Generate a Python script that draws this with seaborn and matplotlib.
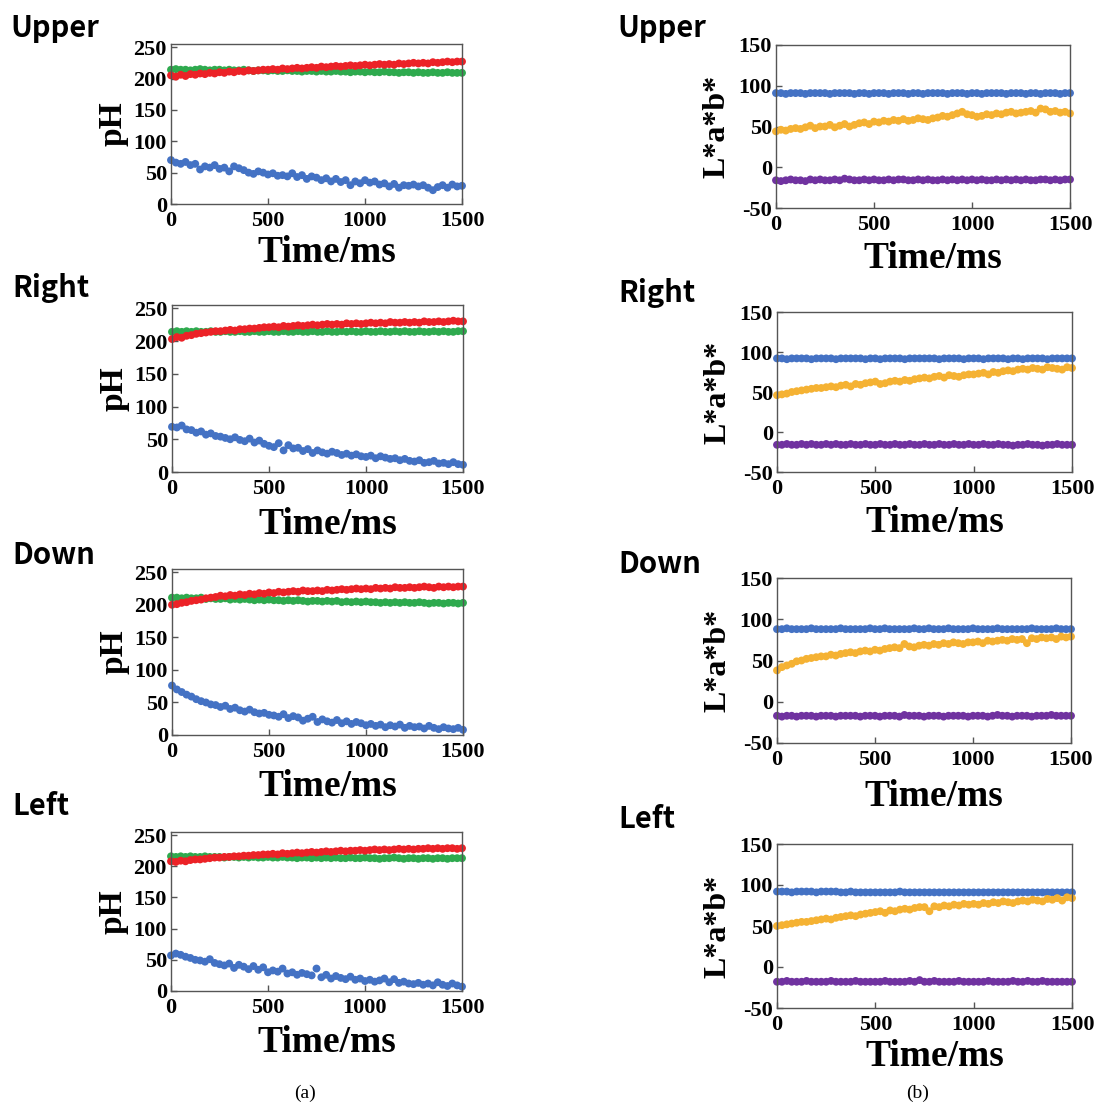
import matplotlib
matplotlib.use("Agg")
import matplotlib.pyplot as plt
import seaborn as sns
import pandas as pd

# ---------------- data ----------------
time_ms = list(range(0, 1501, 25))  # sampling instants (61 points)

# (a) RGB values
ph_upper_r = [205,203,206,204,207,206,208,207,209,208, 210,209,211,210,212,211,213,212,213,214,
              214,215,214,216,215,216,217,216,217,218, 217,219,218,219,220,219,220,221,220,221,
              222,221,222,223,222,223,222,224,223,224, 225,224,225,224,226,225,226,227,226,227, 227]
ph_upper_g = [214,215,214,214,213,214,215,214,213,214, 214,213,214,213,213,214,213,212,213,213,
              212,213,212,212,213,212,212,211,212,212, 211,212,211,211,212,211,211,210,211,211,
              210,211,210,210,211,210,210,209,210,210, 209,210,209,209,210,209,209,210,209,209, 209]
ph_upper_b = [70,66,64,67,62,64,55,60,58,62, 56,58,52,60,57,54,50,48,52,50,
              47,49,45,46,44,49,43,46,40,44, 42,38,41,36,40,35,38,30,36,33,
              38,34,36,31,33,28,32,26,30,29, 31,28,30,26,22,27,30,26,31,28, 29]

ph_right_r = [203,206,205,208,209,211,212,213,214,215, 215,216,217,216,218,218,219,219,220,221,
              221,222,221,223,222,223,224,223,224,225, 224,225,226,225,226,225,227,226,227,226,
              227,228,227,228,227,229,228,228,229,228, 229,228,230,229,229,230,229,230,231,230, 230]
ph_right_g = [214,215,214,215,214,215,214,214,215,214, 214,215,214,214,215,214,214,215,214,214,
              215,214,214,215,214,214,215,214,214,215, 214,214,215,214,214,215,214,215,214,214,
              215,214,214,215,214,214,215,214,215,214, 214,215,214,214,215,214,215,214,214,215, 215]
ph_right_b = [69,68,71,65,64,60,62,57,59,55, 54,52,50,53,49,47,51,45,48,43,
              40,38,44,33,41,36,37,32,35,29, 33,30,28,31,29,26,28,25,27,24,
              23,25,21,24,22,20,21,18,20,17, 16,18,14,15,17,13,14,12,15,12, 11]

ph_down_r = [200,201,203,204,206,207,208,210,211,212, 214,213,215,214,216,215,217,216,218,217,
             219,218,220,219,220,221,220,222,221,221, 222,221,223,222,223,224,223,224,225,224,
             225,224,226,225,226,225,227,226,226,227, 226,227,228,227,226,228,227,228,227,228, 228]
ph_down_g = [211,211,210,211,210,210,211,209,210,209, 209,210,208,209,208,209,208,207,208,207,
             208,207,207,206,207,206,207,206,205,206, 206,205,206,205,206,204,205,204,205,204,
             205,204,204,203,204,203,204,203,204,203, 203,204,203,202,203,203,202,203,203,202, 203]
ph_down_b = [76,70,66,62,59,55,52,50,47,46, 43,45,40,42,38,36,39,35,33,34,
             31,30,28,32,26,29,27,22,25,28, 20,24,21,19,23,18,21,17,20,18,
             15,17,14,16,12,15,13,16,11,14, 12,13,10,14,11,9,12,10,9,11, 8]

ph_left_r = [208,207,209,208,210,211,211,212,213,214, 214,215,215,216,216,217,217,218,218,219,
             219,220,219,221,220,221,222,221,222,223, 222,223,224,223,224,225,224,225,225,226,
             225,226,227,226,227,226,227,228,227,228, 227,228,228,229,228,229,228,229,229,228, 229]
ph_left_g = [216,215,216,215,216,215,215,216,215,215, 215,214,215,215,214,215,214,215,214,214,
             215,214,214,215,214,214,213,214,214,213, 214,213,214,213,214,213,213,214,213,213,
             214,213,213,212,213,213,214,213,212,213, 213,212,213,213,212,213,213,212,213,213, 213]
ph_left_b = [57,60,58,55,53,50,49,47,51,45, 43,41,44,37,42,39,35,40,34,38,
             30,33,31,36,28,30,26,29,27,25, 36,22,26,20,24,21,19,23,18,20,
             16,18,15,17,20,14,19,13,15,12, 11,13,10,12,9,14,10,8,12,9, 7]

# (b) L*a*b* values
lab_upper_L = [91,91,90,91,91,91,90,91,91,91, 91,90,91,91,91,91,90,91,91,90,
               91,91,91,90,91,91,91,90,91,91, 90,91,91,91,91,90,91,91,91,90,
               91,91,90,91,91,91,91,90,91,91, 91,90,91,91,90,91,91,91,90,91, 91]
lab_upper_a = [-16,-17,-16,-15,-16,-16,-17,-15,-16,-15, -16,-16,-15,-16,-14,-15,-16,-16,-15,-16,
               -15,-16,-16,-15,-16,-15,-15,-16,-16,-15, -16,-15,-16,-16,-15,-16,-15,-16,-15,-16,
               -15,-16,-15,-16,-16,-15,-16,-15,-16,-15, -16,-15,-16,-16,-15,-15,-16,-15,-16,-15, -15]
lab_upper_b = [44,46,45,47,48,47,49,51,48,50, 50,52,49,51,53,50,52,54,55,53,
               56,55,57,56,58,57,59,57,58,60, 59,58,60,61,63,62,64,66,68,65,
               64,62,63,65,64,66,65,67,68,66, 67,68,69,67,72,71,68,69,67,68, 66]

lab_right_L = [92,92,91,92,92,92,92,91,92,92, 92,92,91,92,92,92,92,92,91,92,
               92,91,92,92,92,92,91,92,92,92, 92,92,92,91,92,92,92,92,91,92,
               92,92,91,92,92,92,92,91,92,92, 91,92,92,92,92,91,92,92,92,92, 92]
lab_right_a = [-16,-16,-15,-16,-16,-15,-16,-15,-16,-16, -15,-16,-15,-16,-16,-15,-16,-16,-15,-16,
               -16,-15,-16,-16,-15,-16,-16,-15,-16,-16, -15,-16,-16,-15,-16,-16,-15,-16,-16,-15,
               -16,-16,-15,-16,-16,-15,-16,-16,-17,-16, -16,-15,-16,-16,-17,-16,-16,-15,-16,-16, -16]
lab_right_b = [46,47,48,50,51,52,53,54,55,55, 56,57,56,58,59,57,60,59,61,62,
               63,60,61,63,64,63,65,64,66,67, 68,67,69,70,68,71,70,69,71,72,
               72,73,74,72,75,74,76,77,76,78, 79,78,80,79,78,81,80,79,78,81, 80]

lab_down_L = [88,88,89,88,88,88,88,89,88,88, 88,88,88,89,88,88,88,88,88,89,
              88,88,89,88,88,88,88,88,89,88, 88,89,88,88,88,89,88,88,88,88,
              89,88,88,88,88,89,88,88,88,88, 88,88,89,88,88,88,88,89,88,88, 88]
lab_down_a = [-17,-18,-17,-17,-18,-17,-17,-17,-18,-17, -17,-17,-18,-17,-17,-17,-17,-18,-17,-17,
              -17,-18,-17,-17,-17,-18,-16,-17,-17,-17, -18,-17,-17,-17,-18,-17,-17,-17,-17,-18,
              -17,-17,-17,-18,-17,-16,-17,-17,-18,-17, -17,-17,-18,-17,-17,-17,-16,-17,-17,-17, -17]
lab_down_b = [38,42,44,46,49,50,52,53,54,55, 55,57,56,58,59,60,59,61,62,61,
              63,62,64,65,66,65,70,67,66,68, 69,68,70,69,71,70,72,71,70,72,
              72,73,71,74,73,74,75,74,76,75, 76,71,77,76,78,77,78,76,79,78, 79]

lab_left_L = [92,92,92,91,92,92,92,92,91,92, 92,92,92,91,91,92,91,91,91,91,
              91,91,91,91,91,92,91,91,91,91, 91,91,91,91,91,91,91,91,91,91,
              91,91,91,91,91,91,91,91,91,91, 91,91,91,91,91,91,91,91,91,91, 91]
lab_left_a = [-18,-18,-17,-18,-18,-18,-17,-18,-18,-18, -18,-17,-18,-18,-18,-18,-17,-18,-18,-18,
              -18,-18,-17,-18,-18,-18,-18,-17,-18,-16, -18,-18,-17,-18,-18,-18,-18,-17,-18,-18,
              -18,-18,-18,-17,-18,-18,-18,-18,-17,-18, -18,-17,-18,-18,-17,-18,-18,-18,-18,-18, -18]
lab_left_b = [50,51,52,53,54,55,55,56,57,58, 59,58,60,61,62,63,62,64,65,66,
              67,68,66,69,68,70,71,70,72,73, 73,68,74,73,75,74,76,75,77,76,
              77,76,78,77,79,78,80,79,78,80, 81,80,82,81,80,83,82,84,81,85, 84]

panel_names = ["Upper", "Right", "Down", "Left"]
ph_series = [(ph_upper_g, ph_upper_r, ph_upper_b), (ph_right_g, ph_right_r, ph_right_b),
             (ph_down_g, ph_down_r, ph_down_b), (ph_left_g, ph_left_r, ph_left_b)]
lab_series = [(lab_upper_L, lab_upper_a, lab_upper_b), (lab_right_L, lab_right_a, lab_right_b),
              (lab_down_L, lab_down_a, lab_down_b), (lab_left_L, lab_left_a, lab_left_b)]
ph_ticks = [0, 50, 100, 150, 200, 250]
lab_ticks = [-50, 0, 50, 100, 150]
time_ticks = [0, 500, 1000, 1500]

# ---------------- style ----------------
sns.set_style("ticks")
plt.rcParams["font.family"] = ["Liberation Serif", "DejaVu Serif"]
plt.rcParams["axes.unicode_minus"] = False
plt.rcParams["text.color"] = "black"
plt.rcParams["axes.labelcolor"] = "black"
plt.rcParams["xtick.color"] = "black"
plt.rcParams["ytick.color"] = "black"

W, H = 1107, 1108
fig = plt.figure(figsize=(W / 100, H / 100), dpi=100)

RED, GREEN, BLUE = "#EC2227", "#2EAA4E", "#4472C4"
ORANGE, PURPLE = "#F5B233", "#7032A0"

LEFT_BOX = [(171, 44, 462, 204), (172, 305, 463, 472), (172, 569, 463, 735), (171, 832, 462, 991)]
RIGHT_BOX = [(776, 45, 1070, 208), (777, 312, 1072, 472), (777, 578, 1071, 743), (777, 844, 1072, 1008)]
LEFT_TITLE = [(10, 37), (12, 297), (12, 564), (12, 815)]
RIGHT_TITLE = [(617, 37), (618, 302), (618, 573), (618, 828)]
XLAB_OFF_L = [49, 52, 52, 52]
XLAB_OFF_R = [51, 50, 54, 49]


def add_ax(box):
    l, t, r, b = box
    return fig.add_axes([l / W, 1 - b / H, (r - l) / W, (b - t) / H])


def style_ax(ax, yticks, ylim, ylabel, xoff, box):
    ax.set_xlim(0, 1500)
    ax.set_ylim(*ylim)
    ax.set_xticks(time_ticks)
    ax.set_yticks(yticks)
    ax.tick_params(direction="in", length=4, width=1, color="#555555",
                   labelcolor="black", labelsize=16, pad=3)
    ax.tick_params(axis="x", pad=5)
    for lab in ax.get_xticklabels() + ax.get_yticklabels():
        lab.set_fontweight("bold")
    for sp in ax.spines.values():
        sp.set_visible(True)
        sp.set_color("#555555")
        sp.set_linewidth(1.0)
    ax.set_xlabel("Time/ms", fontsize=27, fontweight="bold", color="black")
    ax.set_ylabel(ylabel, fontsize=24 if ylabel == "pH" else 23, fontweight="bold",
                  color="black")
    h = box[3] - box[1]
    ax.xaxis.set_label_coords(0.535, -xoff / h)
    ax.xaxis.label.set_va("center")
    ax.yaxis.set_label_coords(-0.2, 0.5)
    ax.yaxis.label.set_va("center")


def scatter_panel(ax, series, colors, names):
    frames = []
    for vals, nm in zip(series, names):
        frames.append(pd.DataFrame({"time": time_ms, "value": vals, "channel": nm}))
    df = pd.concat(frames, ignore_index=True)
    sns.scatterplot(data=df, x="time", y="value", hue="channel",
                    palette=dict(zip(names, colors)), legend=False,
                    s=32, linewidth=0, ax=ax, clip_on=False)


for i in range(4):
    ax = add_ax(LEFT_BOX[i])
    scatter_panel(ax, ph_series[i], [GREEN, RED, BLUE], ["G", "R", "B"])
    style_ax(ax, ph_ticks, (0, 255), "pH", XLAB_OFF_L[i], LEFT_BOX[i])
    fig.text(LEFT_TITLE[i][0] / W, 1 - LEFT_TITLE[i][1] / H, panel_names[i],
             fontsize=21, fontweight="bold", family=["Noto Sans CJK JP", "DejaVu Sans"],
             ha="left", va="baseline", color="black")

    ax = add_ax(RIGHT_BOX[i])
    scatter_panel(ax, lab_series[i], [BLUE, PURPLE, ORANGE], ["L", "a", "b"])
    style_ax(ax, lab_ticks, (-50, 150), "L*a*b*", XLAB_OFF_R[i], RIGHT_BOX[i])
    fig.text(RIGHT_TITLE[i][0] / W, 1 - RIGHT_TITLE[i][1] / H, panel_names[i],
             fontsize=21, fontweight="bold", family=["Noto Sans CJK JP", "DejaVu Sans"],
             ha="left", va="baseline", color="black")

fig.text(305 / W, 1 - 1098 / H, "(a)", fontsize=14, ha="center", va="baseline")
fig.text(918 / W, 1 - 1098 / H, "(b)", fontsize=14, ha="center", va="baseline")

fig.savefig("out.png", dpi=100, facecolor="white")
